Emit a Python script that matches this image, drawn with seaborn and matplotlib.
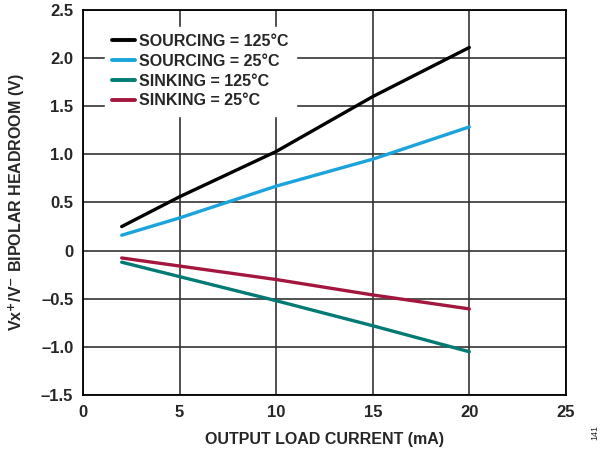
import numpy as np
import pandas as pd
import seaborn as sns
import matplotlib
matplotlib.use("Agg")
import matplotlib.pyplot as plt

sns.set_theme(style="ticks")
plt.rcParams["font.family"] = ["Liberation Sans", "DejaVu Sans"]
plt.rcParams["font.weight"] = "bold"

current = [2, 5, 10, 15, 20]
sourcing_125 = [0.25, 0.56, 1.03, 1.60, 2.11]
sourcing_25 = [0.16, 0.34, 0.67, 0.95, 1.285]
sinking_125 = [-0.12, -0.27, -0.52, -0.78, -1.05]
sinking_25 = [-0.076, -0.16, -0.30, -0.46, -0.605]

labels = ["SOURCING = 125°C", "SOURCING = 25°C", "SINKING = 125°C", "SINKING = 25°C"]
colors = ["#000000", "#1ba3dc", "#007a72", "#a3173f"]

df = pd.DataFrame({
    "current": current * 4,
    "headroom": sourcing_125 + sourcing_25 + sinking_125 + sinking_25,
    "series": np.repeat(labels, len(current)),
})

fig = plt.figure(figsize=(6.02, 4.51), dpi=100)
ax = fig.add_axes([0.138, 0.124, 0.802, 0.854])

sns.lineplot(data=df, x="current", y="headroom", hue="series", hue_order=labels,
             palette=colors, linewidth=2.4, ax=ax, zorder=3)

ax.set_xlim(0, 25)
ax.set_ylim(-1.5, 2.5)
ax.set_xticks([0, 5, 10, 15, 20, 25])
ax.set_yticks(np.arange(-1.5, 2.51, 0.5))
ax.set_xticklabels(["0", "5", "10", "15", "20", "25"])
ax.set_yticklabels(["–1.5", "–1.0", "–0.5", "0", "0.5", "1.0", "1.5", "2.0", "2.5"])
ax.grid(True, color="#333333", linewidth=1.2)
ax.tick_params(length=0, labelsize=12, pad=7)
for lbl in ax.get_xticklabels() + ax.get_yticklabels():
    lbl.set_fontweight("bold")
for sp in ax.spines.values():
    sp.set_color("black")
    sp.set_linewidth(1.3)

ax.set_xlabel("OUTPUT LOAD CURRENT (mA)", fontsize=11.5, fontweight="bold", labelpad=9)
ax.set_ylabel("Vx$^{\\mathbf{+}}$/V$^{\\mathbf{−}}$ BIPOLAR HEADROOM (V)", fontsize=11.5,
              fontweight="bold", labelpad=10)

leg = ax.legend(loc="upper left", bbox_to_anchor=(0.0455, 0.956), frameon=True,
                fontsize=11.5, handlelength=1.45, handletextpad=0.25,
                labelspacing=0.3, borderpad=0.45, borderaxespad=0)
leg.get_frame().set_facecolor("white")
leg.get_frame().set_edgecolor("white")
leg.get_frame().set_alpha(1)
leg.set_zorder(5)
for t in leg.get_texts():
    t.set_fontweight("bold")
for h in leg.get_lines():
    h.set_linewidth(2.8)

fig.text(0.988, 0.025, "141", rotation=90, fontsize=6.5, fontweight="normal",
         ha="center", va="bottom")

fig.savefig("out.png", dpi=100)
